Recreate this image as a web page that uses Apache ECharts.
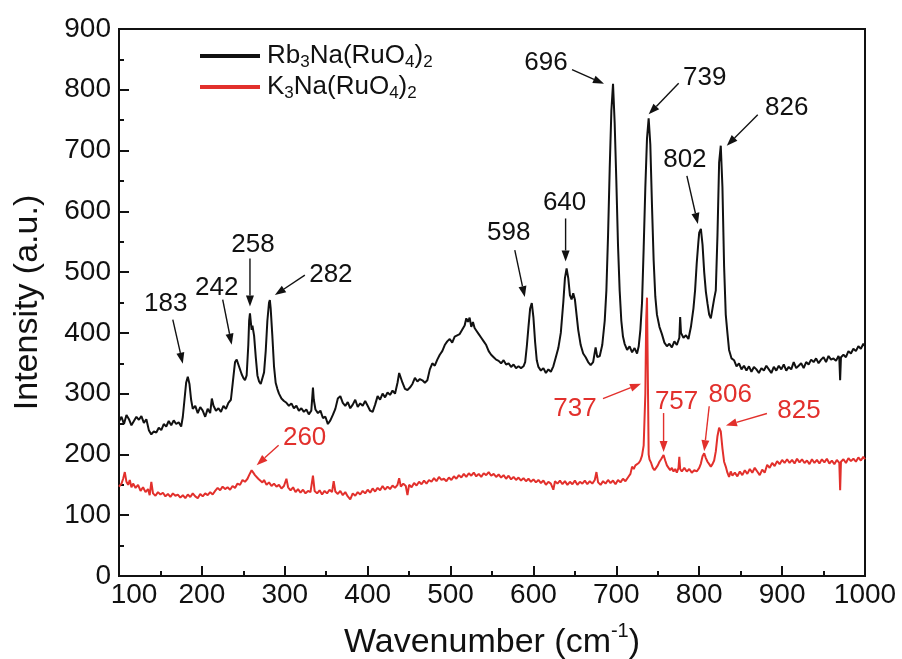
<!DOCTYPE html>
<html>
<head>
<meta charset="utf-8">
<script src="https://cdn.jsdelivr.net/npm/echarts@6/dist/echarts.min.js"></script>
<style>
  html, body { margin: 0; padding: 0; background: #fff; }
  #chart { width: 902px; height: 659px; }
</style>
</head>
<body>
<div id="chart"></div>
<script>
// Raman spectra, [wavenumber (cm-1), intensity (a.u.)]
const rbSpectrum = [
  [100,254],[103,262],[106,250],[109,265],[112,258],[115,248],[118,255],[121,262],[124,257],[127,263],
  [130,252],[133,258],[136,240],[139,233],[142,238],[145,236],[148,244],[151,240],[154,250],[157,246],
  [160,255],[163,248],[166,256],[169,250],[172,253],[175,246],[177,262],[179,290],[181,318],[183,328],
  [185,316],[187,290],[189,275],[192,280],[195,268],[198,278],[201,272],[204,262],[207,275],[210,268],
  [212,292],[214,280],[217,272],[220,276],[223,270],[226,280],[229,275],[232,285],[235,290],[237,315],
  [239,340],[240,352],[242,356],[244,348],[246,350],[248,332],[250,326],[252,322],[254,330],[256,380],
  [257,420],[258,432],[259,418],[260,405],[261,412],[262,410],[263,395],[265,360],[267,330],[269,320],
  [271,316],[273,318],[275,335],[277,370],[279,420],[281,450],[282,454],[283,440],[285,395],[287,345],
  [289,318],[291,308],[293,300],[296,292],[299,288],[302,285],[305,280],[308,284],[311,276],[314,280],
  [317,272],[320,276],[323,270],[326,274],[329,266],[332,272],[334,310],[335,290],[337,274],[340,268],
  [343,272],[346,260],[349,262],[352,250],[355,256],[358,265],[361,275],[364,292],[367,296],[370,285],
  [373,280],[376,286],[379,276],[382,282],[385,290],[388,278],[391,284],[394,280],[397,288],[400,280],
  [403,272],[406,270],[409,282],[412,296],[415,290],[418,300],[421,294],[424,302],[427,298],[430,305],
  [433,300],[436,318],[438,334],[440,332],[442,318],[445,308],[448,306],[451,310],[454,316],[457,326],
  [460,320],[463,324],[466,322],[469,318],[472,322],[475,340],[478,350],[481,346],[484,356],[487,364],
  [490,370],[493,380],[496,386],[499,390],[502,384],[505,394],[508,396],[511,398],[514,405],[517,412],
  [519,424],[521,418],[523,425],[525,410],[527,418],[529,408],[531,404],[534,398],[537,392],[540,386],
  [543,380],[546,370],[549,364],[552,360],[555,356],[558,354],[561,350],[564,355],[567,348],[570,350],
  [573,344],[576,348],[579,342],[582,345],[585,342],[588,345],[590,352],[592,378],[594,410],[596,440],
  [598,449],[600,425],[602,385],[604,355],[606,344],[609,338],[612,342],[615,334],[618,340],[621,336],
  [624,345],[627,360],[630,375],[633,400],[636,450],[638,490],[640,506],[642,490],[644,462],[646,455],
  [648,465],[650,455],[652,430],[654,405],[657,380],[660,366],[663,360],[666,352],[669,347],[672,352],
  [675,376],[677,360],[680,362],[683,380],[686,420],[688,470],[690,560],[692,670],[694,765],[696,810],
  [698,745],[700,650],[702,545],[704,470],[706,420],[708,394],[710,382],[713,372],[716,378],[719,368],
  [722,375],[725,366],[727,378],[729,405],[731,450],[733,540],[735,640],[737,720],[739,753],[741,710],
  [743,610],[745,520],[747,460],[749,430],[752,410],[755,398],[758,384],[761,378],[764,382],[767,376],
  [770,386],[773,380],[776,392],[777,426],[778,400],[781,392],[784,396],[787,390],[790,410],[793,440],
  [795,470],[797,515],[799,550],[800,565],[802,571],[804,545],[806,500],[808,468],[810,448],[812,430],
  [814,424],[816,440],[818,456],[820,470],[822,560],[824,680],[826,708],[828,640],[830,510],[832,430],
  [834,400],[836,372],[839,358],[842,355],[845,345],[848,350],[851,340],[854,346],[857,338],[860,345],
  [863,336],[866,344],[869,340],[872,334],[875,342],[878,338],[881,346],[884,340],[887,334],[890,344],
  [893,338],[896,346],[899,340],[902,348],[905,338],[908,344],[911,340],[914,352],[917,342],[920,346],
  [923,350],[926,342],[929,352],[932,348],[935,356],[938,352],[941,358],[944,350],[947,356],[950,360],
  [953,352],[956,362],[959,356],[962,358],[965,354],[968,362],[969,358],[970,322],[971,360],[974,364],
  [977,360],[980,370],[983,366],[986,374],[989,370],[992,378],[995,374],[998,382],[1000,378]
];

const kSpectrum = [
  [100,147],[103,152],[105,160],[107,171],[109,155],[111,150],[113,158],[115,146],[117,152],[120,145],
  [123,150],[126,140],[129,146],[132,138],[135,143],[137,133],[139,155],[141,136],[144,132],[147,138],
  [150,134],[153,137],[156,131],[159,135],[162,130],[165,136],[168,132],[171,134],[174,129],[177,133],
  [180,128],[183,134],[186,130],[189,136],[192,131],[195,128],[198,135],[201,131],[204,136],[207,133],
  [210,138],[213,134],[216,140],[219,145],[222,141],[225,147],[228,143],[231,146],[234,142],[237,148],
  [240,145],[243,152],[246,150],[249,158],[252,155],[255,160],[257,166],[258,163],[260,174],[262,170],
  [264,166],[266,168],[268,160],[270,162],[273,154],[275,158],[278,150],[281,154],[284,148],[287,152],
  [290,147],[293,150],[296,144],[299,148],[302,160],[304,146],[307,141],[310,146],[313,138],[316,143],
  [319,137],[322,142],[325,136],[328,140],[331,138],[334,165],[336,140],[339,136],[342,141],[345,134],
  [348,140],[351,136],[354,142],[357,138],[359,156],[361,139],[364,135],[367,140],[370,133],[373,138],
  [376,131],[379,126],[382,136],[385,132],[388,138],[391,134],[394,140],[397,136],[400,142],[403,137],
  [406,144],[409,139],[412,145],[415,141],[418,148],[421,142],[424,147],[427,143],[430,149],[433,145],
  [436,150],[438,161],[440,147],[443,152],[446,148],[448,133],[450,150],[453,146],[456,153],[459,149],
  [462,155],[465,151],[468,157],[471,152],[474,158],[477,155],[480,161],[483,156],[486,163],[489,158],
  [492,160],[495,156],[498,162],[501,158],[504,164],[507,160],[510,166],[513,162],[516,168],[519,163],
  [522,169],[525,165],[528,170],[531,164],[534,168],[537,163],[540,169],[543,166],[546,171],[549,165],
  [552,168],[555,163],[558,167],[561,162],[564,166],[567,160],[570,165],[573,159],[576,163],[579,158],
  [582,162],[585,157],[588,161],[591,156],[594,160],[597,155],[600,159],[603,154],[606,158],[609,153],
  [612,157],[615,150],[618,155],[621,152],[624,142],[626,156],[629,152],[632,157],[635,151],[638,156],
  [641,150],[644,155],[647,151],[650,157],[653,150],[656,155],[659,152],[662,157],[665,151],[668,156],
  [671,152],[674,158],[676,171],[678,154],[681,150],[684,156],[687,152],[690,158],[693,153],[696,157],
  [699,151],[702,158],[705,154],[708,160],[711,156],[714,162],[717,168],[719,180],[721,176],[723,182],
  [725,184],[727,186],[729,190],[731,198],[733,215],[735,300],[736,420],[737,458],[738,330],[739,200],
  [740,192],[742,186],[744,178],[746,174],[748,178],[750,182],[752,188],[754,192],[757,199],[759,190],
  [761,182],[763,178],[765,174],[767,178],[769,172],[771,176],[773,170],[775,178],[776,196],[777,176],
  [779,172],[782,178],[785,172],[788,176],[791,170],[794,174],[797,172],[800,178],[802,185],[804,197],
  [806,202],[808,194],[810,188],[812,184],[814,180],[816,184],[818,190],[820,205],[822,230],[824,244],
  [825,246],[826,238],[828,210],[830,188],[832,180],[834,170],[836,163],[838,172],[840,165],[843,170],
  [846,164],[849,172],[852,166],[855,174],[858,168],[861,176],[864,170],[867,178],[870,172],[873,166],
  [876,175],[879,170],[882,183],[885,178],[888,186],[891,181],[894,189],[897,184],[900,191],[903,186],
  [906,192],[909,186],[912,191],[915,185],[918,193],[921,187],[924,192],[927,186],[930,190],[933,184],
  [936,192],[939,186],[942,191],[945,185],[948,192],[951,187],[954,193],[957,185],[960,190],[963,184],
  [966,191],[969,186],[970,141],[971,188],[974,192],[977,186],[980,194],[983,189],[986,193],[989,188],
  [992,195],[995,190],[998,196],[1000,192]
];

// Assigned band positions (cm-1)
const rbPeaks = [183, 242, 258, 282, 598, 640, 696, 739, 802, 826];
const kPeaks = [260, 737, 757, 806, 825];

// Axis ranges and ticks
const xRange = [100, 1000];
const xStep = 100;
const yRange = [0, 900];
const yStep = 100;

const seriesNames = ['Rb3Na(RuO4)2', 'K3Na(RuO4)2'];
const BLACK = '#111111';
const RED = '#e2302c';
const FONT = '"Liberation Sans", Arial, Helvetica, sans-serif';

// Callout geometry in pixels, relative to the band maximum:
// [tipDx, tipDy, tailDx, tailDy, textDx, textDy]
const rbCallouts = [
  [-5, -13, -15, -57, -22, -73],
  [-5, -15, -14, -60, -20, -72],
  [0, -7, 0, -55, 3, -69],
  [5, -5, 35, -25, 61, -25],
  [-7, -6, -17, -53, -23, -70],
  [-1, -7, -1, -50, -2, -66],
  [-9, 0, -41, -14, -67, -21],
  [0, -4, 30, -35, 56, -41],
  [-3, -5, -14, -53, -16, -69],
  [6, 0, 37, -31, 66, -38]
];
const kCallouts = [
  [5, -5, 27, -25, 53, -32],
  [-6, 86, -44, 101, -72, 111],
  [0, -3, 0, -42, 13, -53],
  [0, -2, 5, -47, 26, -58],
  [6, -1, 47, -13, 79, -16]
];

// Turn a formula such as Rb3Na(RuO4)2 into rich text with subscripted digits
function formulaRich(name) {
  return name.replace(/(\d+)|([^\d]+)/g, (m, d, t) => d ? '{s|' + d + '}' : '{n|' + t + '}');
}

const chart = echarts.init(document.getElementById('chart'), null, { renderer: 'canvas' });

const option = {
  animation: false,
  backgroundColor: '#ffffff',
  textStyle: { fontFamily: FONT },
  grid: {
    left: 119, right: 37, top: 29, bottom: 83,
    outerBoundsMode: 'none',
    containLabel: false,
    show: true, borderColor: BLACK, borderWidth: 2, backgroundColor: 'transparent'
  },
  legend: {
    orient: 'vertical',
    left: 195, top: 38,
    itemWidth: 60, itemHeight: 4, itemGap: 3,
    icon: 'rect',
    data: seriesNames,
    formatter: formulaRich,
    textStyle: {
      color: BLACK,
      padding: [0, 0, 0, 2],
      rich: {
        n: { fontSize: 26, lineHeight: 30, fontFamily: FONT, color: BLACK },
        s: { fontSize: 17, lineHeight: 6, verticalAlign: 'bottom', fontFamily: FONT, color: BLACK }
      }
    }
  },
  xAxis: {
    type: 'value',
    min: xRange[0], max: xRange[1], interval: xStep,
    name: '{n|Wavenumber (cm}{p|-1}{n|)}',
    nameLocation: 'middle',
    nameGap: 45,
    nameTextStyle: {
      rich: {
        n: { fontSize: 34, lineHeight: 44, color: BLACK, fontFamily: FONT },
        p: { fontSize: 20, lineHeight: 18, verticalAlign: 'top', color: BLACK, fontFamily: FONT }
      }
    },
    axisLine: { show: true, lineStyle: { color: BLACK, width: 2 } },
    axisTick: { show: true, inside: true, length: 10, lineStyle: { color: BLACK, width: 2 } },
    minorTick: { show: true, splitNumber: 2, length: 5, lineStyle: { color: BLACK, width: 2 } },
    splitLine: { show: false },
    axisLabel: {
      fontSize: 28, color: BLACK, margin: 5, fontFamily: FONT,
      formatter: v => v === xRange[0] ? '{first|' + v + '}' : String(v),
      rich: { first: { fontSize: 28, color: BLACK, fontFamily: FONT, padding: [0, 0, 0, 30] } }
    }
  },
  yAxis: {
    type: 'value',
    min: yRange[0], max: yRange[1], interval: yStep,
    name: 'Intensity (a.u.)',
    nameLocation: 'middle',
    nameGap: 74,
    nameTextStyle: { fontSize: 34, color: BLACK, fontFamily: FONT },
    axisLine: { show: true, lineStyle: { color: BLACK, width: 2 } },
    axisTick: { show: true, inside: true, length: 10, lineStyle: { color: BLACK, width: 2 } },
    minorTick: { show: true, splitNumber: 2, length: 5, lineStyle: { color: BLACK, width: 2 } },
    splitLine: { show: false },
    axisLabel: { fontSize: 28, color: BLACK, margin: 8, fontFamily: FONT }
  },
  series: [
    {
      name: seriesNames[0], type: 'line', data: rbSpectrum,
      showSymbol: false, symbol: 'none', color: BLACK,
      lineStyle: { color: BLACK, width: 2 }, z: 3
    },
    {
      name: seriesNames[1], type: 'line', data: kSpectrum,
      showSymbol: false, symbol: 'none', color: RED,
      lineStyle: { color: RED, width: 2 }, z: 4
    }
  ]
};

chart.setOption(option);

// Arrows and band labels, anchored on the band maxima of each spectrum
function intensityAt(spectrum, w) {
  const p = spectrum.find(d => d[0] === w);
  return p ? p[1] : 0;
}

function calloutGraphics(spectrum, peaks, layout, color) {
  const out = [];
  peaks.forEach((w, i) => {
    const [px, py] = chart.convertToPixel({ gridIndex: 0 }, [w, intensityAt(spectrum, w)]);
    const g = layout[i];
    const tip = [px + g[0], py + g[1]];
    const tail = [px + g[2], py + g[3]];
    const dx = tip[0] - tail[0], dy = tip[1] - tail[1];
    const len = Math.sqrt(dx * dx + dy * dy);
    const ux = dx / len, uy = dy / len;
    const head = 11, half = 4;
    const base = [tip[0] - ux * head, tip[1] - uy * head];
    out.push({
      type: 'line', silent: true, z: 10,
      shape: { x1: tail[0], y1: tail[1], x2: base[0], y2: base[1] },
      style: { stroke: color, lineWidth: 1.4 }
    });
    out.push({
      type: 'polygon', silent: true, z: 10,
      shape: { points: [tip, [base[0] - uy * half, base[1] + ux * half], [base[0] + uy * half, base[1] - ux * half]] },
      style: { fill: color }
    });
    out.push({
      type: 'text', silent: true, z: 10,
      x: px + g[4], y: py + g[5],
      style: {
        text: String(w), fill: color, font: '26px ' + FONT,
        textAlign: 'center', textVerticalAlign: 'middle'
      }
    });
  });
  return out;
}

chart.setOption({
  graphic: calloutGraphics(rbSpectrum, rbPeaks, rbCallouts, BLACK)
    .concat(calloutGraphics(kSpectrum, kPeaks, kCallouts, RED))
});
</script>
</body>
</html>
